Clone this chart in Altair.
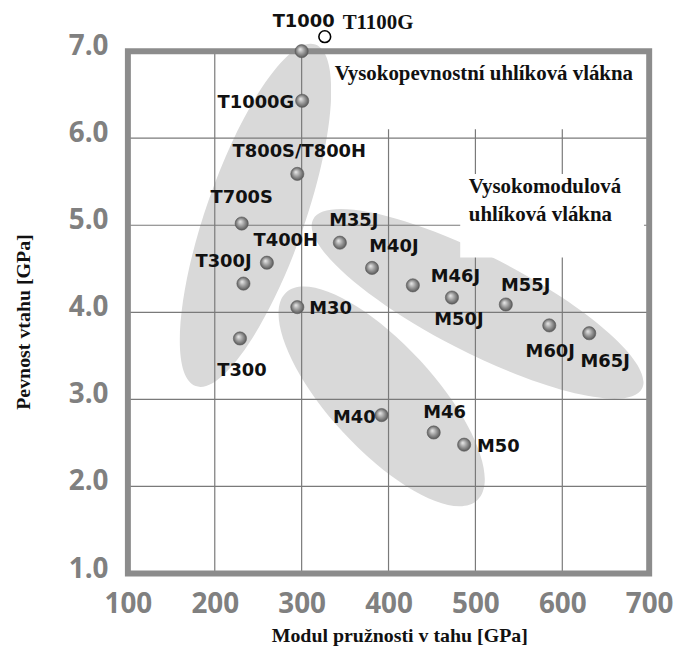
import altair as alt
import pandas as pd

# ---------------- data ----------------
fiber = ["T1000", "T1000G", "T800S/T800H", "T700S", "T400H", "T300J", "T300",
         "M30", "M35J", "M40J", "M46J", "M50J", "M55J", "M60J", "M65J",
         "M40", "M46", "M50"]
modulus = [300, 300.6, 295, 231, 260, 233, 229,
           295, 344, 381, 428, 473, 535, 585, 631,
           392, 452, 487]
strength = [7.00, 6.43, 5.59, 5.02, 4.57, 4.33, 3.70,
            4.06, 4.80, 4.51, 4.31, 4.17, 4.09, 3.85, 3.76,
            2.82, 2.62, 2.48]

open_fiber = ["T1100G"]
open_modulus = [326.6]
open_strength = [7.166]

# centres of the shaded fibre-family regions (data units)
region_x = [246.9, 392.1, 502.5]
region_y = [5.114, 3.034, 4.097]

x_ticks = [100, 200, 300, 400, 500, 600, 700]
y_ticks = [1.0, 2.0, 3.0, 4.0, 5.0, 6.0, 7.0]

note_text = ["Vysokopevnostní uhlíková vlákna", "Vysokomodulová\nuhlíková vlákna"]
note_x = [338, 492.4]
note_y = [6.674, 5.375]
# white backing boxes behind the notes
box_x = [333.8, 482.5]
box_x2 = [700, 694]
box_y = [7.0, 5.589]
box_y2 = [6.103, 4.629]

# ---------------- styles ----------------
# (semi-major px, semi-minor px, angle deg) for each region
region_style = [(182, 49.5, 109.3), (142, 53, 47.4), (186, 48.5, 27.2)]
REGION_FILL = "#d9d9d9"
GRID = "#7a7a7a"
FRAME = "#8c8c8c"

# label placement: (align, dx, dy)
label_style = {
    "T1000": ("center", 2, -29), "T1000G": ("right", -8, 2),
    "T800S/T800H": ("center", 2, -22), "T700S": ("center", 0, -26),
    "T400H": ("center", 19, -22), "T300J": ("center", -20, -22),
    "T300": ("center", 2, 33), "M30": ("left", 12, 2),
    "M35J": ("center", 14, -22), "M40J": ("center", 22, -21),
    "M46J": ("left", 18, -8), "M50J": ("center", 7, 23),
    "M55J": ("center", 20, -19), "M60J": ("center", 1, 27),
    "M65J": ("center", 16, 29), "M40": ("right", -6, 3),
    "M46": ("center", 11, -20), "M50": ("left", 13, 2),
}

xs = alt.Scale(domain=[x_ticks[0], x_ticks[-1]], nice=False, zero=False)
ys = alt.Scale(domain=[y_ticks[0], y_ticks[-1]], nice=False, zero=False)

x_axis = alt.Axis(values=x_ticks, format="d", grid=False, domain=False, ticks=False,
                  tickSize=0, labelFont="Open Sans", labelFontSize=28,
                  labelFontWeight="bold", labelColor="#808080", labelPadding=17,
                  labelFlush=False, labelOverlap=False, labelBound=False,
                  title="Modul pružnosti v tahu [GPa]", titleFont="Liberation Serif",
                  titleFontSize=20, titleFontWeight="bold", titleColor="#111111",
                  titleX=273, titleY=68, titleAlign="center", titleBaseline="alphabetic")
y_axis = alt.Axis(values=y_ticks, format=".1f", grid=False, domain=False, ticks=False,
                  tickSize=0, labelFont="Open Sans", labelFontSize=28,
                  labelFontWeight="bold", labelColor="#808080", labelPadding=20,
                  labelOffset=-4.5, labelFlush=False, labelOverlap=False, labelBound=False,
                  title="Pevnost vtahu [GPa]", titleFont="Liberation Serif",
                  titleFontSize=20, titleFontWeight="bold", titleColor="#111111",
                  titleX=-99, titleY=272, titleAngle=270, titleAlign="center",
                  titleBaseline="alphabetic")


def X(f):
    return alt.X(f, type="quantitative", scale=xs, axis=x_axis)


def Y(f):
    return alt.Y(f, type="quantitative", scale=ys, axis=y_axis)


def ellipse_path(ratio):
    k = 0.5523
    r = ratio
    return (f"M 1 0 C 1 {k*r:.4f} {k:.4f} {r:.4f} 0 {r:.4f} "
            f"C {-k:.4f} {r:.4f} -1 {k*r:.4f} -1 0 "
            f"C -1 {-k*r:.4f} {-k:.4f} {-r:.4f} 0 {-r:.4f} "
            f"C {k:.4f} {-r:.4f} 1 {-k*r:.4f} 1 0 Z")


layers = []

# shaded regions
for cx, cy, (a, b, ang) in zip(region_x, region_y, region_style):
    d = pd.DataFrame({"x": [cx], "y": [cy]})
    layers.append(
        alt.Chart(d).mark_point(shape=ellipse_path(b / a), size=4 * a * a, angle=ang,
                                filled=True, color=REGION_FILL, opacity=1, strokeWidth=0)
        .encode(x=X("x"), y=Y("y"))
    )

# grid lines
gx = pd.DataFrame({"v": x_ticks[1:-1]})
gy = pd.DataFrame({"v": y_ticks[1:-1]})
layers.append(alt.Chart(gx).mark_rule(color=GRID, strokeWidth=1.2).encode(x=X("v")))
layers.append(alt.Chart(gy).mark_rule(color=GRID, strokeWidth=1.2).encode(y=Y("v")))

# white note backgrounds
bx = pd.DataFrame({"x": box_x, "x2": box_x2, "y": box_y, "y2": box_y2})
layers.append(alt.Chart(bx).mark_rect(color="white", opacity=1)
              .encode(x=X("x"), x2="x2", y=Y("y"), y2="y2"))

# frame
fr = pd.DataFrame({"x": [x_ticks[0]], "x2": [x_ticks[-1]], "y": [y_ticks[0]], "y2": [y_ticks[-1]]})
layers.append(alt.Chart(fr).mark_rect(fillOpacity=0, stroke=FRAME, strokeWidth=6)
              .encode(x=X("x"), x2="x2", y=Y("y"), y2="y2"))

# notes
for t, nx, ny in zip(note_text, note_x, note_y):
    d = pd.DataFrame({"x": [nx], "y": [ny], "t": [t]})
    layers.append(
        alt.Chart(d).mark_text(font="Liberation Serif", fontSize=21, fontWeight="bold",
                               color="#111111", align="left", baseline="alphabetic",
                               lineBreak="\n", lineHeight=28.5)
        .encode(x=X("x"), y=Y("y"), text="t:N")
    )

# points
pts = pd.DataFrame({"fiber": fiber, "E": modulus, "S": strength})
sphere = alt.RadialGradient(
    gradient="radial",
    stops=[alt.GradientStop(color="#ececec", offset=0),
           alt.GradientStop(color="#9a9a9a", offset=0.5),
           alt.GradientStop(color="#4d4d4d", offset=1)],
    x1=0.38, y1=0.35, r1=0, x2=0.5, y2=0.5, r2=0.55)
layers.append(alt.Chart(pts).mark_circle(size=177, fill=sphere, opacity=1,
                                         stroke="#5a5a5a", strokeWidth=0.6)
              .encode(x=X("E"), y=Y("S")))

op = pd.DataFrame({"fiber": open_fiber, "E": open_modulus, "S": open_strength})
layers.append(alt.Chart(op).mark_point(shape="circle", size=140, filled=True, fill="white",
                                       stroke="black", strokeWidth=1.6, opacity=1)
              .encode(x=X("E"), y=Y("S")))
layers.append(alt.Chart(op).mark_text(font="Liberation Serif", fontSize=21, fontWeight="bold",
                                      color="#111111", align="left", baseline="middle",
                                      dx=18, dy=-14)
              .encode(x=X("E"), y=Y("S"), text="fiber:N"))

# labels
for name, e, s in zip(fiber, modulus, strength):
    al, dx, dy = label_style[name]
    d = pd.DataFrame({"fiber": [name], "E": [e], "S": [s]})
    layers.append(
        alt.Chart(d).mark_text(font="DejaVu Sans", fontSize=18, fontWeight="bold",
                               color="#111111", align=al, baseline="middle", dx=dx, dy=dy)
        .encode(x=X("E"), y=Y("S"), text="fiber:N")
    )

chart = alt.layer(*layers).properties(
    width=524.4, height=525.5,
    autosize=alt.AutoSizeParams(type="none"),
    padding={"left": 120.6, "top": 41.5, "right": 30, "bottom": 72},
).configure_view(strokeWidth=0)

chart.save("out.html", embed_options={"renderer": "svg", "actions": False})
